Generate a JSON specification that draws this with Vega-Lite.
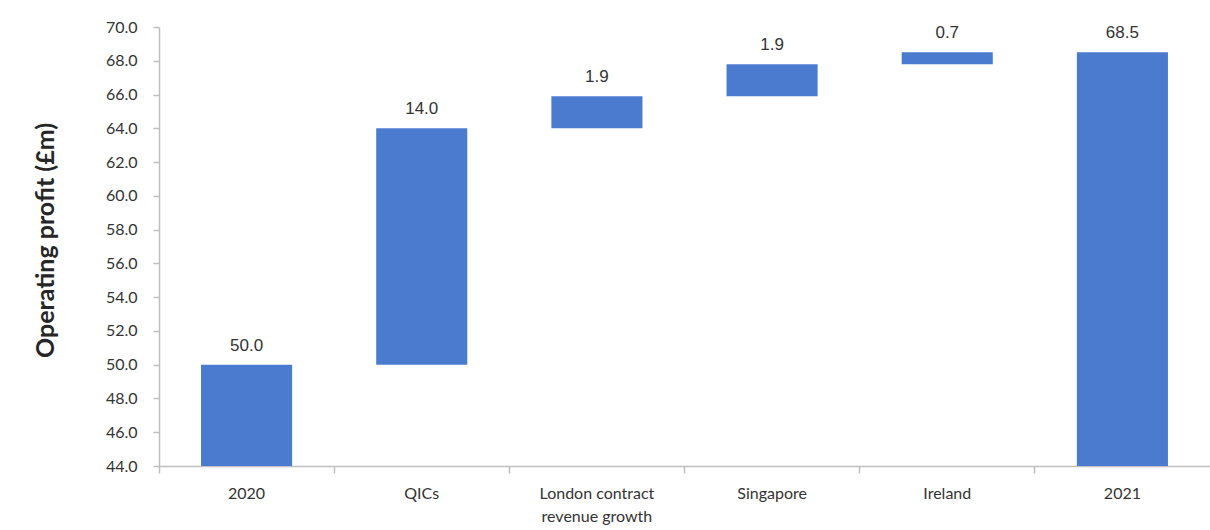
{
  "$schema": "https://vega.github.io/schema/vega-lite/v6.json",
  "autosize": "none",
  "width": 1051,
  "height": 439,
  "padding": {"left": 159, "top": 27, "right": 0, "bottom": 64},
  "background": "white",
  "config": {
    "view": {"stroke": null},
    "font": "Lato"
  },
  "data": {
    "values": [
      {"step": "2020", "start": 0, "end": 50.0, "label": "50.0"},
      {"step": "QICs", "start": 50.0, "end": 64.0, "label": "14.0"},
      {"step": "London contract revenue growth", "start": 64.0, "end": 65.9, "label": "1.9"},
      {"step": "Singapore", "start": 65.9, "end": 67.8, "label": "1.9"},
      {"step": "Ireland", "start": 67.8, "end": 68.5, "label": "0.7"},
      {"step": "2021", "start": 0, "end": 68.5, "label": "68.5"}
    ]
  },
  "encoding": {
    "x": {
      "field": "step",
      "type": "nominal",
      "sort": null,
      "scale": {"paddingInner": 0.48, "paddingOuter": 0.24},
      "axis": {
        "title": null,
        "labelAngle": 0,
        "labelFont": "Lato",
        "labelFontSize": 16,
        "labelColor": "#333333",
        "labelPadding": 12,
        "labelLineHeight": 23,
        "labelOverlap": false,
        "labelExpr": "datum.value == 'London contract revenue growth' ? ['London contract', 'revenue growth'] : datum.value",
        "domainColor": "#bfbfbf",
        "domainWidth": 1.5,
        "tickColor": "#bfbfbf",
        "tickWidth": 1.5,
        "tickSize": 7,
        "bandPosition": -0.46,
        "grid": false
      }
    },
    "y": {
      "field": "end",
      "type": "quantitative",
      "scale": {"domain": [44, 70], "nice": false, "zero": false},
      "axis": {
        "title": "Operating profit (£m)",
        "titleFont": "Lato",
        "titleFontSize": 25,
        "titleFontWeight": "bold",
        "titleColor": "#262626",
        "titleX": -114,
        "titleY": 213,
        "titleBaseline": "middle",
        "values": [44, 46, 48, 50, 52, 54, 56, 58, 60, 62, 64, 66, 68, 70],
        "format": ".1f",
        "labelFont": "Lato",
        "labelFontSize": 16,
        "labelColor": "#333333",
        "labelPadding": 16,
        "labelOverlap": false,
        "labelBound": false,
        "labelFlush": false,
        "domainColor": "#bfbfbf",
        "domainWidth": 1.5,
        "tickColor": "#bfbfbf",
        "tickWidth": 1.5,
        "tickSize": 6,
        "grid": false
      }
    }
  },
  "layer": [
    {
      "mark": {"type": "bar", "color": "#4a7bcf", "clip": true},
      "encoding": {
        "y2": {"field": "start"}
      }
    },
    {
      "mark": {
        "type": "text",
        "baseline": "bottom",
        "dy": -10,
        "font": "Liberation Sans",
        "fontSize": 17,
        "color": "#333333"
      },
      "encoding": {
        "text": {"field": "label"}
      }
    }
  ]
}
